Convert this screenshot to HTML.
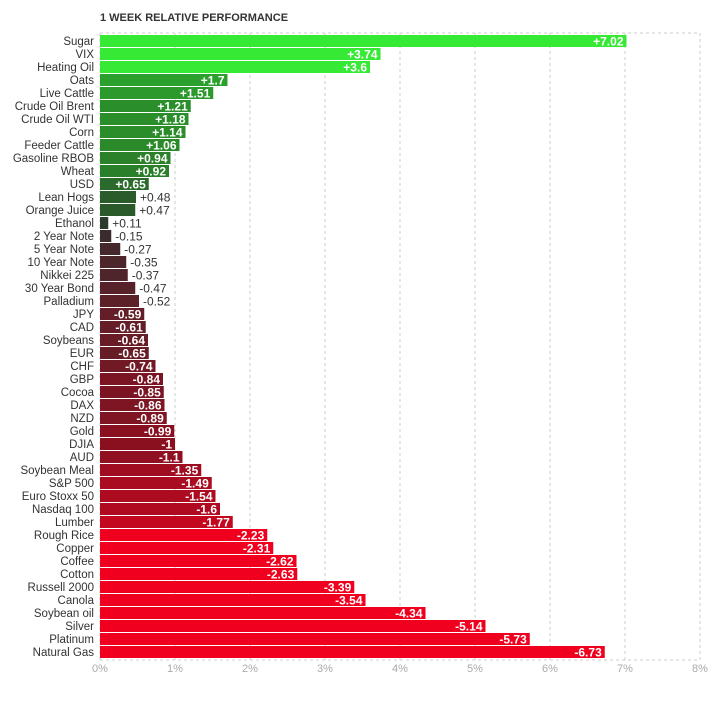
<!DOCTYPE html>
<html><head><meta charset="utf-8"><style>
body{margin:0;background:#fff;font-family:"Liberation Sans",sans-serif;}
svg text{font-family:"Liberation Sans",sans-serif;}
</style></head><body>
<svg id="chart" width="718" height="697" xmlns="http://www.w3.org/2000/svg">
<text x="100" y="21" font-size="11" font-weight="bold" fill="#333">1 WEEK RELATIVE PERFORMANCE</text>
<g id="grid"></g><g id="bars"></g><g id="axis"></g>
</svg>
<script>
const categories=["Sugar","VIX","Heating Oil","Oats","Live Cattle","Crude Oil Brent","Crude Oil WTI","Corn","Feeder Cattle","Gasoline RBOB","Wheat","USD","Lean Hogs","Orange Juice","Ethanol","2 Year Note","5 Year Note","10 Year Note","Nikkei 225","30 Year Bond","Palladium","JPY","CAD","Soybeans","EUR","CHF","GBP","Cocoa","DAX","NZD","Gold","DJIA","AUD","Soybean Meal","S&P 500","Euro Stoxx 50","Nasdaq 100","Lumber","Rough Rice","Copper","Coffee","Cotton","Russell 2000","Canola","Soybean oil","Silver","Platinum","Natural Gas"];
const values=[7.02,3.74,3.6,1.7,1.51,1.21,1.18,1.14,1.06,0.94,0.92,0.65,0.48,0.47,0.11,-0.15,-0.27,-0.35,-0.37,-0.47,-0.52,-0.59,-0.61,-0.64,-0.65,-0.74,-0.84,-0.85,-0.86,-0.89,-0.99,-1,-1.1,-1.35,-1.49,-1.54,-1.6,-1.77,-2.23,-2.31,-2.62,-2.63,-3.39,-3.54,-4.34,-5.14,-5.73,-6.73];
const ticks=[0,1,2,3,4,5,6,7,8];
const NS="http://www.w3.org/2000/svg";
const x0=100,pxPer=75,top0=35,pitch=13,barH=12;
const xs=v=>x0+v*pxPer;
const ys=i=>top0+i*pitch;
const stops=[[-2.2,[240,0,30]],[-1.6,[176,10,32]],[-1,[138,16,32]],[-0.52,[92,32,40]],[-0.15,[58,44,44]],[0.11,[44,58,44]],[0.47,[42,90,42]],[0.65,[42,106,42]],[1.06,[42,138,42]],[1.7,[44,160,44]],[3,[53,233,53]]];
function color(v){
 if(v<=stops[0][0])return "rgb("+stops[0][1]+")";
 for(let i=1;i<stops.length;i++){if(v<=stops[i][0]){const a=stops[i-1],b=stops[i],t=(v-a[0])/(b[0]-a[0]);return "rgb("+a[1].map((c,k)=>Math.round(c+(b[1][k]-c)*t)).join(",")+")";}}
 return "rgb("+stops[stops.length-1][1]+")";
}
function mk(tag,attrs,parent){const e=document.createElementNS(NS,tag);for(const k in attrs)e.setAttribute(k,attrs[k]);parent.appendChild(e);return e;}
const grid=document.getElementById('grid'),bars=document.getElementById('bars'),axis=document.getElementById('axis');
const bottom=ys(categories.length)+1;
const tl=mk('line',{x1:x0,x2:xs(8),y1:33,y2:33,stroke:'#ccc','stroke-dasharray':'3,3'},grid);


ticks.forEach(t=>{
 const l=mk('line',{x1:xs(t),x2:xs(t),y1:33,y2:bottom,stroke:'#ccc','stroke-dasharray':'3,3'},grid);
 
 
 const tx=mk('text',{x:xs(t),y:bottom+12,'font-size':11,fill:'#aaa','text-anchor':'middle'},axis);
 tx.textContent=t+'%';
 
 
});
const bl=mk('line',{x1:x0,x2:xs(8),y1:bottom,y2:bottom,stroke:'#ccc','stroke-dasharray':'3,3'},grid);


categories.forEach((c,i)=>{
 const v=values[i],w=Math.abs(v)*pxPer,y=ys(i);
 const lab=mk('text',{x:94,y:y+10,'font-size':11.5,fill:'#333','text-anchor':'end'},bars);
 lab.textContent=c;
 
 
 const r=mk('rect',{x:x0,y:y,width:w,height:barH,fill:color(v)},bars);
 
 
 const s=(v>0?'+':'')+v;
 const tw=s.length*6.4;
 const inside=w>tw+10;
 const t=mk('text',{x:inside?x0+w-3:x0+w+4,y:y+10.5,'font-size':12,'font-weight':inside?'bold':'normal',fill:inside?'#fff':'#333','text-anchor':inside?'end':'start'},bars);
 t.textContent=s;
 
 
});
</script>
</body></html>
